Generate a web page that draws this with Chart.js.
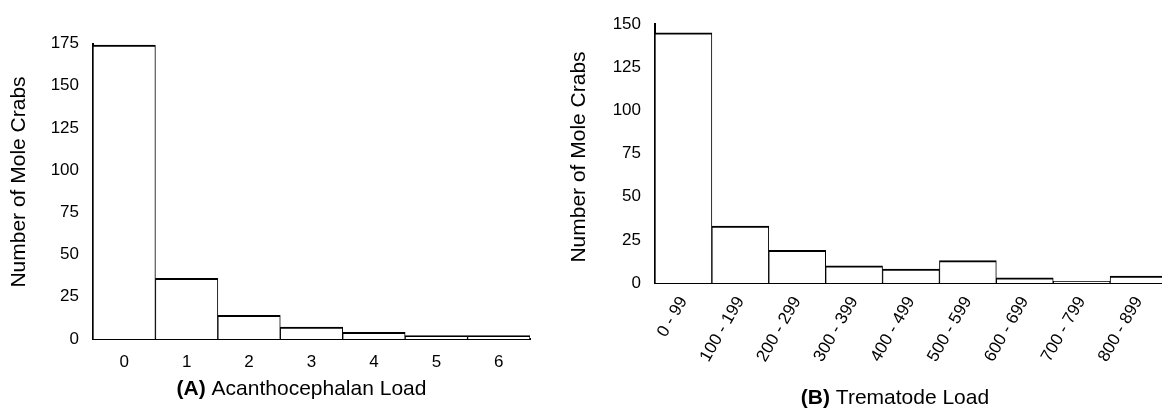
<!DOCTYPE html>
<html lang="en">
<head>
<meta charset="UTF-8">
<title>Mole Crab Parasite Loads</title>
<script src="https://cdn.jsdelivr.net/npm/chart.js@4.4.0/dist/chart.umd.min.js"></script>
<style>
    html, body { margin: 0; padding: 0; background: #fff; overflow: hidden; }
    body { width: 1162px; height: 412px; position: relative; }
    .panel { position: absolute; top: 0; height: 412px; }
    #panelA { left: 0; width: 560px; }
    #panelB { left: 560px; width: 620px; }
</style>
</head>
<body>
    <div class="panel" id="panelA"><canvas id="chartA"></canvas></div>
    <div class="panel" id="panelB"><canvas id="chartB"></canvas></div>

<script>
    // (A) acanthocephalan load
    const acanthLoads = ['0', '1', '2', '3', '4', '5', '6'];
    const acanthCounts = [174, 36, 14, 7, 4, 2, 2];
    const acanthMax = 175;

    // (B) trematode load
    const tremLoads = ['0 - 99', '100 - 199', '200 - 299', '300 - 399', '400 - 499',
                       '500 - 599', '600 - 699', '700 - 799', '800 - 899'];
    const tremCounts = [145, 33, 19, 10, 8, 13, 3, 1, 4];
    const tremMax = 150;

    const countStep = 25;
    const yTitle = 'Number of Mole Crabs';

    const FONT = '"Liberation Sans", Arial, Helvetica, sans-serif';
    Chart.defaults.font.family = FONT;
    Chart.defaults.color = '#000';

    // axis titles have a bold panel letter, so they are drawn by hand
    function axisTitles(o) {
        return {
            id: 'axisTitles',
            afterDraw(chart) {
                const { ctx, chartArea } = chart;
                const bold = 'bold 21px ' + FONT;
                const plain = '21px ' + FONT;
                ctx.save();
                ctx.fillStyle = '#000';
                ctx.textBaseline = 'middle';
                ctx.textAlign = 'left';
                ctx.font = bold;
                const w1 = ctx.measureText(o.letter + ' ').width;
                ctx.font = plain;
                const w2 = ctx.measureText(o.xText).width;
                const x0 = (chartArea.left + chartArea.right) / 2 + o.xShift - (w1 + w2) / 2;
                ctx.font = bold;
                ctx.fillText(o.letter + ' ', x0, o.xTitleY);
                ctx.font = plain;
                ctx.fillText(o.xText, x0 + w1, o.xTitleY);

                ctx.translate(o.yTitleX, o.yTitleY);
                ctx.rotate(-Math.PI / 2);
                ctx.textAlign = 'center';
                ctx.fillText(yTitle, 0, 0);
                ctx.restore();
            }
        };
    }

    function histogram(id, labels, counts, yMax, box, rotation, titles) {
        return new Chart(document.getElementById(id), {
            type: 'bar',
            data: {
                labels: labels,
                datasets: [{
                    data: counts,
                    backgroundColor: '#fff',
                    borderColor: '#000',
                    borderWidth: { top: 2, left: 1, right: 1, bottom: 0 },
                    borderSkipped: false,
                    barPercentage: 1,
                    categoryPercentage: 1
                }]
            },
            options: {
                responsive: true,
                maintainAspectRatio: false,
                animation: false,
                devicePixelRatio: 1,
                layout: { padding: { top: box.top, right: box.right, left: 0, bottom: 0 } },
                plugins: { legend: { display: false }, tooltip: { enabled: false } },
                scales: {
                    x: {
                        grid: { display: false, drawTicks: false },
                        border: { display: true, color: '#000', width: 2 },
                        ticks: {
                            font: { size: 17 }, color: '#000', padding: box.xPad,
                            autoSkip: false, minRotation: rotation, maxRotation: rotation
                        },
                        afterFit(s) { s.height = box.xHeight; }
                    },
                    y: {
                        min: 0, max: yMax,
                        grid: { display: false, drawTicks: false },
                        border: { display: true, color: '#000', width: 2 },
                        ticks: { stepSize: countStep, font: { size: 17 }, color: '#000', padding: 14 },
                        afterFit(s) { s.width = box.yWidth; }
                    }
                }
            },
            plugins: [axisTitles(titles)]
        });
    }

    histogram('chartA', acanthLoads, acanthCounts, acanthMax,
        { top: 43.5, right: 30, yWidth: 93, xHeight: 73, xPad: 13 }, 0,
        { letter: '(A)', xText: 'Acanthocephalan Load', xShift: -10, xTitleY: 389, yTitleX: 19, yTitleY: 182 });

    histogram('chartB', tremLoads, tremCounts, tremMax,
        { top: 18, right: 13, yWidth: 95, xHeight: 129, xPad: 10 }, 60,
        { letter: '(B)', xText: 'Trematode Load', xShift: -16, xTitleY: 398, yTitleX: 19, yTitleY: 157 });
</script>
</body>
</html>
